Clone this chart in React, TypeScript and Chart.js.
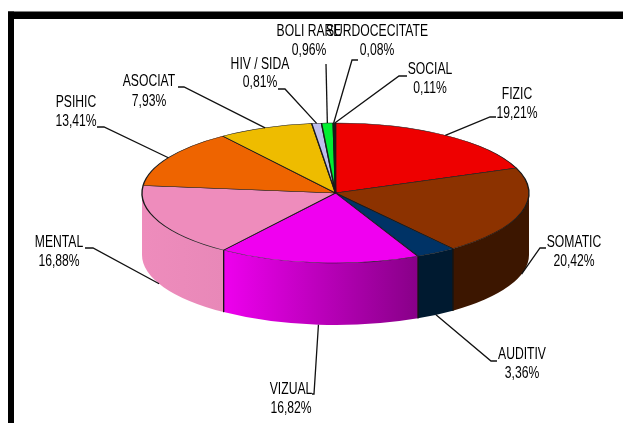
import React, { useEffect, useRef } from "react";
import { Chart, registerables } from "chart.js";

Chart.register(...registerables);

const categories = ["FIZIC", "SOMATIC", "AUDITIV", "VIZUAL", "MENTAL", "PSIHIC", "ASOCIAT", "HIV / SIDA", "BOLI RARE", "SURDOCECITATE", "SOCIAL"];
const shares = [19.21, 20.42, 3.36, 16.82, 16.88, 13.41, 7.93, 0.81, 0.96, 0.08, 0.11];
const shareLabels = ["19,21%", "20,42%", "3,36%", "16,82%", "16,88%", "13,41%", "7,93%", "0,81%", "0,96%", "0,08%", "0,11%"];
const topColors = ["#EE0000", "#8C3200", "#003366", "#F000F0", "#EE8CBC", "#EE6400", "#EEBC00", "#BEBEEE", "#00EE32", "#3C3C3C", "#8C8C8C"];
const wallFrom = ["#3C1600", "#3C1600", "#001A30", "#EE00EE", "#EE8CBC", "#EE8CBC", "#000000", "#000000", "#000000", "#000000", "#000000"];
const wallTo = ["#3C1600", "#3C1600", "#001A30", "#880088", "#E888B8", "#E888B8", "#000000", "#000000", "#000000", "#000000", "#000000"];

// label layout: [text centre x, first line y, second line y]
const labelBoxes: number[][] = [
  [517, 95, 114], [574, 243, 262], [522, 355, 374], [291, 390, 409], [59, 243, 262], [76, 103, 122],
  [149, 82, 102], [260, 65, 83], [309, 32, 51], [377, 32, 51], [430, 70, 89],
];
// leader elbows, from the text side towards the pie
const leaderElbows: number[][][] = [
  [[496, 117], [490, 117]], [[546, 248], [540, 248]], [[497, 361], [491, 361]], [[312, 394], [314, 394]],
  [[85, 248], [93, 248]], [[97, 127], [104, 127]], [[178, 87], [184, 87]], [[278, 89], [285, 89]],
  [[326, 64], [326, 64]], [[358, 60], [352, 60]], [[407, 76], [399, 76]],
];

const CX = 335.5;
const CY = 193;
const RX = 193.5;
const RY = 70;
const DEPTH = 62;
const TEXT_SQUEEZE = 0.76;

const pie3d = {
  id: "pie3d",
  beforeDraw(chart: any) {
    const { ctx, width, height } = chart;
    ctx.save();
    ctx.fillStyle = "#FFFFFF";
    ctx.fillRect(0, 0, width, height);
    ctx.fillStyle = "#000000";
    ctx.fillRect(8, 11.5, width - 8, 7.5);
    ctx.fillRect(8, 11.5, 6, height - 11.5);
    ctx.restore();
  },
  beforeDatasetsDraw(chart: any) {
    const { ctx } = chart;
    const arcs = chart.getDatasetMeta(0).data;
    ctx.save();
    arcs.forEach((arc: any, i: number) => {
      const a = Math.max(arc.startAngle, 0);
      const b = Math.min(arc.endAngle, Math.PI);
      if (b <= a) return;
      const x1 = CX + RX * Math.cos(a);
      const x2 = CX + RX * Math.cos(b);
      const g = ctx.createLinearGradient(x1, 0, x2, 0);
      g.addColorStop(0, wallTo[i]);
      g.addColorStop(1, wallFrom[i]);
      ctx.beginPath();
      ctx.ellipse(CX, CY, RX, RY, 0, a, b, false);
      ctx.ellipse(CX, CY + DEPTH, RX, RY, 0, b, a, true);
      ctx.closePath();
      ctx.fillStyle = g;
      ctx.fill();
      ctx.strokeStyle = "#141414";
      ctx.lineWidth = 1.2;
      [a, b].forEach((t) => {
        if (t === 0 || t === Math.PI) return;
        const x = CX + RX * Math.cos(t);
        const y = CY + RY * Math.sin(t);
        ctx.beginPath();
        ctx.moveTo(x, y);
        ctx.lineTo(x, y + DEPTH);
        ctx.stroke();
      });
    });
    ctx.restore();
    const p = arcs[0];
    ctx.save();
    ctx.translate(CX, CY);
    ctx.scale(1, RY / RX);
    ctx.translate(-p.x, -p.y);
  },
  afterDatasetsDraw(chart: any) {
    const { ctx } = chart;
    ctx.restore();
    const arcs = chart.getDatasetMeta(0).data;
    ctx.save();
    ctx.strokeStyle = "#111111";
    ctx.lineWidth = 1.3;
    ctx.fillStyle = "#000000";
    ctx.textAlign = "center";
    ctx.textBaseline = "middle";
    ctx.font = "16px 'Liberation Sans', sans-serif";
    arcs.forEach((arc: any, i: number) => {
      const mid = (arc.startAngle + arc.endAngle) / 2;
      const front = Math.sin(mid) > 0;
      const ax = CX + RX * Math.cos(mid);
      const ay = CY + RY * Math.sin(mid) + (front ? DEPTH : 0);
      ctx.beginPath();
      ctx.moveTo(leaderElbows[i][0][0], leaderElbows[i][0][1]);
      ctx.lineTo(leaderElbows[i][1][0], leaderElbows[i][1][1]);
      ctx.lineTo(ax, ay);
      ctx.stroke();
    });
    categories.forEach((name, i) => {
      const [x, y1, y2] = labelBoxes[i];
      ctx.save();
      ctx.translate(x, 0);
      ctx.scale(TEXT_SQUEEZE, 1);
      ctx.fillText(name, 0, y1);
      ctx.fillText(shareLabels[i], 0, y2);
      ctx.restore();
    });
    ctx.restore();
  },
};

export default function App() {
  const ref = useRef<HTMLCanvasElement>(null);
  useEffect(() => {
    document.body.style.margin = "0";
    const chart = new Chart(ref.current!, {
      type: "pie",
      data: {
        labels: categories,
        datasets: [
          {
            data: shares,
            backgroundColor: topColors,
            borderColor: "#1a1a1a",
            borderWidth: 1.4,
            radius: RX,
          } as any,
        ],
      },
      options: {
        responsive: false,
        animation: false,
        events: [],
        plugins: { legend: { display: false }, tooltip: { enabled: false } },
      },
      plugins: [pie3d],
    });
    return () => chart.destroy();
  }, []);
  return <canvas ref={ref} width={623} height={423} style={{ display: "block", filter: "blur(0.5px)" }} />;
}
